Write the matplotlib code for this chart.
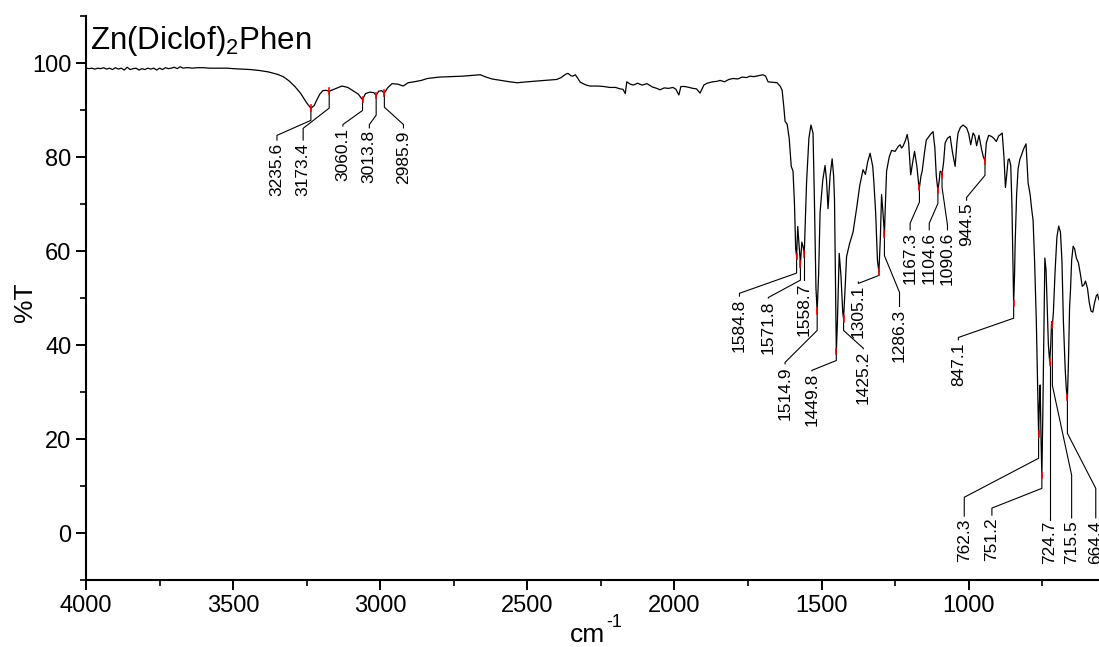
import numpy as np
import matplotlib
matplotlib.use("Agg")
import matplotlib.pyplot as plt
from matplotlib.ticker import MultipleLocator

plt.rcParams['font.family'] = ['Liberation Sans', 'DejaVu Sans']
plt.rcParams['mathtext.fontset'] = 'custom'
plt.rcParams['mathtext.rm'] = 'Liberation Sans'

# spectrum (cm-1, %T)
wavenumber = [
    4000, 3990, 3980, 3970, 3960, 3950, 3940, 3930, 3920, 3910, 3900, 3890, 3880, 3870,
    3860, 3850, 3840, 3830, 3820, 3810, 3800, 3790, 3780, 3770, 3760, 3750, 3740, 3730,
    3720, 3710, 3700, 3690, 3680, 3670, 3660, 3650, 3640, 3620, 3600, 3580, 3560, 3540,
    3520, 3500, 3470, 3440, 3410, 3380, 3350, 3330, 3310, 3290, 3270, 3255, 3245, 3235.6,
    3225, 3215, 3205, 3195, 3185, 3173.4, 3150, 3130, 3110, 3090, 3075, 3060.1, 3050,
    3035, 3022, 3013.8, 3005, 2995, 2985.9, 2975, 2960, 2940, 2922, 2905, 2885, 2860,
    2840, 2800, 2760, 2720, 2680, 2660, 2640, 2620, 2590, 2560, 2535, 2500, 2460, 2420,
    2400, 2385, 2370, 2362, 2352, 2345, 2337, 2328, 2320, 2300, 2287, 2260, 2240, 2220,
    2200, 2185, 2175, 2167, 2162, 2150, 2140, 2125, 2110, 2093, 2075, 2060, 2049, 2035,
    2020, 2005, 1995, 1985, 1978, 1965, 1950, 1937, 1925, 1913, 1900, 1889, 1870, 1855,
    1845, 1830, 1815, 1801, 1785, 1770, 1755, 1743, 1730, 1715, 1699, 1690, 1682, 1665,
    1651, 1640, 1634, 1628, 1624, 1617, 1610, 1603, 1597, 1592, 1588, 1584.8, 1581, 1576,
    1571.8, 1567, 1563, 1558.7, 1551, 1543, 1536, 1529, 1524, 1519, 1514.9, 1510, 1505,
    1496, 1488, 1483, 1478, 1471, 1464, 1459, 1456, 1453, 1449.8, 1446, 1440, 1434, 1428,
    1425.2, 1420, 1415, 1405, 1393, 1381, 1370, 1359, 1351, 1343, 1335, 1326, 1322, 1316,
    1310, 1305.1, 1300, 1296, 1291, 1286.3, 1283, 1279, 1270, 1262, 1250, 1240, 1233,
    1228, 1223, 1215, 1209, 1204, 1197, 1190, 1184, 1176, 1170, 1167.3, 1162, 1158, 1150,
    1144, 1130, 1121, 1115, 1110, 1104.6, 1100, 1097, 1093, 1090.6, 1085, 1080, 1072,
    1063, 1055, 1046, 1040, 1036, 1028, 1019, 1007, 1000, 993, 985, 979, 973, 965, 956,
    950, 944.5, 940, 932, 923, 915, 906, 898, 893, 886, 880, 875, 871, 866, 862, 857,
    853, 849, 847.1, 844, 842, 837, 832, 826, 820, 814, 805, 798, 791, 786, 781, 776,
    770, 765, 762.3, 760, 757, 754, 751.2, 748, 744, 741, 737, 733, 729, 724.7, 721, 718,
    715.5, 712, 706, 700, 694, 688, 683, 678, 672, 668, 664.4, 661, 657, 654, 650, 645,
    640, 634, 627, 620, 614, 608, 603, 596, 590, 584, 578, 572, 566, 562, 558, 555,
]
transmittance = [
    98.9, 98.8, 98.9, 98.7, 98.9, 98.8, 99.0, 98.7, 98.9, 98.6, 99.0, 98.7, 98.9, 98.5,
    99.1, 98.6, 98.8, 98.9, 98.5, 98.8, 98.6, 98.9, 98.7, 98.9, 98.5, 98.9, 98.6, 99.0,
    98.8, 98.9, 99.1, 98.8, 99.2, 98.9, 99.0, 99.0, 98.9, 99.0, 99.0, 98.9, 98.9, 98.9,
    98.9, 98.8, 98.7, 98.6, 98.4, 98.1, 97.6, 97.1, 96.2, 95.0, 93.5, 92.0, 91.1, 90.4,
    90.9, 92.2, 93.4, 94.1, 94.2, 94.0, 94.6, 95.1, 94.8, 94.0, 93.4, 92.2, 93.5,
    93.8, 93.7, 93.1, 94.0, 94.1, 93.6, 94.7, 95.6, 95.5, 95.1, 95.8, 96.0, 96.3,
    96.7, 97.0, 97.1, 97.2, 97.4, 97.5, 97.0, 96.6, 96.3, 96.0, 95.8, 96.0, 96.2, 96.4,
    96.5, 96.9, 97.6, 97.8, 97.3, 97.2, 97.5, 96.7, 95.9, 95.3, 95.1, 95.1, 95.0, 94.8,
    94.8, 94.5, 94.4, 93.5, 96.0, 95.5, 95.3, 95.7, 95.3, 95.6, 94.9, 94.6, 94.3, 94.7,
    94.6, 94.8, 94.4, 93.2, 95.0, 95.0, 94.8, 94.6, 94.5, 93.6, 95.3, 95.7, 96.0, 96.1,
    96.3, 96.0, 96.5, 96.7, 96.6, 97.0, 96.9, 97.2, 97.1, 97.3, 97.5, 97.2, 96.0, 95.9,
    95.8, 95.0, 94.2, 90.5, 87.6, 87.0, 84.0, 78.0, 77.0, 70.0, 60.5, 58.8, 65.2, 61.0,
    57.3, 61.9, 61.0, 59.4, 74.5, 84.0, 86.8, 85.1, 70.0, 52.0, 47.2, 55.0, 68.2,
    75.0, 78.2, 75.0, 69.0, 76.0, 79.6, 76.0, 71.0, 55.0, 38.6, 45.0, 59.5, 54.7, 47.0,
    45.6, 52.0, 58.8, 61.5, 64.0, 69.0, 74.0, 77.3, 76.3, 79.0, 80.8, 78.0, 74.5, 68.0,
    58.0, 55.6, 63.0, 72.0, 68.0, 63.6, 70.0, 77.0, 80.0, 81.4, 81.2, 82.2, 82.6,
    81.9, 82.3, 83.5, 84.8, 83.0, 76.2, 79.0, 81.2, 78.0, 74.3, 73.5, 76.0, 77.0, 81.0,
    83.6, 84.8, 85.4, 82.0, 76.0, 72.9, 75.0, 77.0, 76.8, 76.2, 79.0, 83.0, 84.0,
    84.4, 81.0, 78.0, 83.0, 85.1, 86.3, 86.8, 86.2, 85.0, 82.6, 85.1, 84.5, 82.4, 84.6, 81.6,
    80.0, 79.2, 83.0, 84.6, 84.4, 84.0, 83.3, 84.5, 84.7, 85.1, 80.0, 73.5, 76.0, 79.4, 79.6, 78.2,
    70.0, 55.0, 48.8, 55.0, 61.6, 72.0, 77.5, 79.5, 80.5, 81.6, 82.8, 74.5, 72.0, 69.0, 66.5, 58.0,
    45.0, 30.0, 21.0, 27.0, 31.5, 20.0, 12.2, 25.0, 45.0, 58.5, 56.0, 48.0, 40.0, 36.4, 40.0, 45.0,
    44.2, 47.0, 56.0, 63.0, 65.3, 64.0, 58.0, 45.0, 35.0, 30.5, 28.8, 36.0, 48.0, 51.5, 58.0, 61.0,
    60.5, 58.5, 57.5, 55.0, 52.5, 52.8, 53.6, 52.0, 49.0, 47.2, 47.0, 49.0, 50.5, 50.8, 49.8, 49.5,
]

# peak labels and leader lines
peak_wn = [3235.6, 3173.4, 3060.1, 3013.8, 2985.9, 1584.8, 1571.8, 1558.7, 1514.9,
           1449.8, 1425.2, 1305.1, 1286.3, 1167.3, 1104.6, 1090.6, 944.5, 847.1,
           762.3, 751.2, 724.7, 715.5, 664.4]
elbow_t = [87.8, 90.4, 89.9, 88.9, 90.6, 55.3, 53.8, 53.8, 43.1,
           36.7, 43.1, 54.8, 59.0, 70.4, 70.1, 73.6, 76.1, 45.7,
           15.9, 9.5, 2.7, 31.4, 21.2]
label_wn = [3351, 3262, 3127, 3037, 2921, 1779, 1681, 1558.7, 1624,
            1533, 1358, 1375, 1235, 1199, 1134, 1072, 1007, 1035,
            1015, 921, 724.7, 650, 568]
bend_t = [84.6, 86.1, 86.9, 86.9, 86.9, 51.0, 50.1, 53.8, 36.3,
          34.6, 39.3, 53.1, 51.2, 65.9, 65.9, 65.5, 71.4, 41.6,
          7.6, 5.3, 2.7, 12.3, 9.5]
label_top = [83.1, 83.1, 86.1, 85.7, 85.7, 49.9, 49.5, 53.3, 35.5,
             34.0, 38.7, 52.9, 47.7, 64.0, 64.0, 64.0, 70.3, 40.6,
             3.1, 3.3, 2.7, 2.7, 2.7]

fig = plt.figure(figsize=(10.99, 6.47), dpi=100)
ax = fig.add_axes([86 / 1099, 1 - 580 / 647, 1 - 86 / 1099, 564 / 647])

ax.plot(wavenumber, transmittance, color='black', lw=0.9)

wn_asc = np.array(wavenumber)[::-1]
t_asc = np.array(transmittance)[::-1]
peak_t = np.interp(peak_wn, wn_asc, t_asc)

for w, t, e, lw_, b, top, in zip(peak_wn, peak_t, elbow_t, label_wn, bend_t, label_top):
    ax.plot([w, w, lw_, lw_], [t, e, b, top + 0.5], color='black', lw=0.8, clip_on=False)
    ax.plot([w, w], [t - 0.6, t + 0.6], color='red', lw=1.2, clip_on=False)
    ax.text(lw_, top, '%.1f' % w, rotation=90, ha='center', va='top',
            fontsize=12.5, clip_on=False)

ax.set_xlim(4000, 557)
ax.set_ylim(-10, 110)
ax.xaxis.set_major_locator(MultipleLocator(500))
ax.xaxis.set_minor_locator(MultipleLocator(250))
ax.yaxis.set_major_locator(MultipleLocator(20))
ax.yaxis.set_minor_locator(MultipleLocator(10))
ax.set_yticks([0, 20, 40, 60, 80, 100])

for s in ['top', 'right']:
    ax.spines[s].set_visible(False)
for s in ['left', 'bottom']:
    ax.spines[s].set_linewidth(1.5)
ax.tick_params(which='major', direction='out', length=7, width=1.4, labelsize=17)
ax.tick_params(which='minor', direction='out', length=4, width=1.2)

fig.text(25 / 1099, 1 - 302 / 647, '%T', rotation=90, ha='center', va='center', fontsize=19)
fig.text(605 / 1099, 1 - 642 / 647, 'cm', ha='right', va='baseline', fontsize=19)
fig.text(606 / 1099, 1 - 627 / 647, '-1', ha='left', va='baseline', fontsize=13)
ax.text(0.004, 0.985, r'Zn(Diclof)$\mathregular{_2}$Phen', transform=ax.transAxes,
        ha='left', va='top', fontsize=22.5)

fig.savefig('out.png', dpi=100)
